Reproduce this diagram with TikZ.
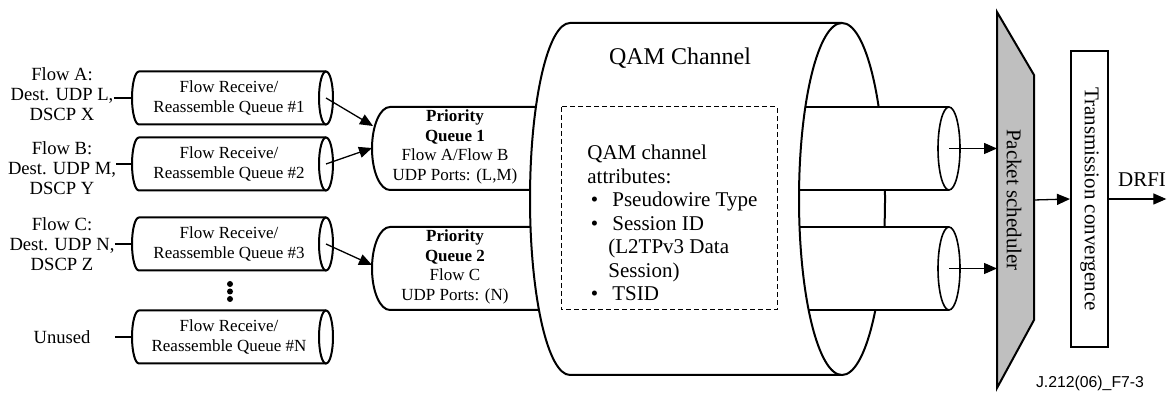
\documentclass[tikz,border=0pt]{standalone}
\usepackage{fontspec}
\setmainfont{Liberation Serif}
\setsansfont{Liberation Sans}
\usetikzlibrary{arrows.meta, positioning, calc}

\begin{document}
\begin{tikzpicture}[
  x=0.5pt, y=-0.5pt,
  txt/.style    = {font=\fontsize{8.5}{9.75}\selectfont, align=center, inner sep=0pt},
  lbl/.style    = {font=\fontsize{9.3}{10}\selectfont, align=center, inner sep=0pt},
  big/.style    = {font=\fontsize{10.5}{11.75}\selectfont, inner sep=0pt},
  tube/.style   = {draw, line width=1pt, fill=white},
  inner/.style  = {draw, line width=0.8pt},
  arrow/.style  = {line width=0.65pt, -{Triangle[length=6.5pt, width=5.5pt]}},
  conn/.style   = {line width=0.65pt}
]
  \useasboundingbox (0,0) rectangle (1172,394);

  % Flow receive / reassemble queues
  \foreach \i/\y in {1/98, 2/164, 3/244, N/337} {
    \draw[tube] (326,\y-26.5) -- (139,\y-26.5)
      arc[start angle=270, end angle=90, x radius=7, y radius=26.5]
      -- (326,\y+26.5);
    \draw[tube] (326,\y) ellipse[x radius=7, y radius=26.5];
    \node[txt] (frq\i) at (229,\y) {Flow Receive/\\Reassemble Queue \#\i};
    \coordinate (in\i) at (132,\y);
    \coordinate (out\i) at (326,\y);
  }

  % Dots between queue 3 and queue N
  \foreach \d in {284,291.5,299}
    \fill (230,\d) circle[radius=3];

  % Flow labels
  \node[lbl] (flowA) at (62,94)  {Flow A:\\Dest. UDP L,\\DSCP X};
  \node[lbl] (flowB) at (62,168) {Flow B:\\Dest. UDP M,\\DSCP Y};
  \node[lbl] (flowC) at (62,244) {Flow C:\\Dest. UDP N,\\DSCP Z};
  \node[lbl] (unused) at (62,337) {Unused};

  \draw[conn] (flowA.east |- in1) -- (in1);
  \draw[conn] (flowB.east |- in2) -- (in2);
  \draw[conn] (flowC.east |- in3) -- (in3);
  \draw[conn] (flowC.east |- inN) -- (inN);

  % Priority queues
  \foreach \q/\y in {1/148.5, 2/268.5}
    \draw[tube] (600,\y-41.5) -- (390,\y-41.5)
      arc[start angle=270, end angle=90, x radius=18, y radius=41.5]
      -- (600,\y+41.5);

  \node[txt] (pq1) at (455,147)
    {\textbf{Priority}\\\textbf{Queue 1}\\Flow A/Flow B\\UDP Ports: (L,M)};
  \node[txt] (pq2) at (455,267)
    {\textbf{Priority}\\\textbf{Queue 2}\\Flow C\\UDP Ports: (N)};

  \coordinate (pq1a) at (373,126);
  \coordinate (pq1b) at (372,148);
  \coordinate (pq2a) at (372,265);

  \draw[arrow] (out1) -- (pq1a);
  \draw[arrow] (out2) -- (pq1b);
  \draw[arrow] (out3) -- (pq2a);

  % QAM channel
  \draw[tube] (842,23) -- (570,23)
    arc[start angle=270, end angle=90, x radius=40, y radius=176]
    -- (842,375);
  \draw[tube] (842,199) ellipse[x radius=43, y radius=176];
  \node[font=\fontsize{12}{14}\selectfont, inner sep=0pt] (qam) at (680,58) {QAM Channel};

  % Attributes
  \draw[dash pattern=on 2.5pt off 1.5pt, line width=0.5pt] (561,107) rectangle (777,310);
  \node[big, align=left, anchor=west] (attrs) at (587,223)
    {QAM channel\\
     attributes:\\
     \makebox[12.5pt][l]{\,\textbullet}Pseudowire Type\\
     \makebox[12.5pt][l]{\,\textbullet}Session ID\\
     \hspace*{10.5pt}(L2TPv3 Data\\
     \hspace*{10.5pt}Session)\\
     \makebox[12.5pt][l]{\,\textbullet}TSID};

  % Output tubes
  \foreach \t/\y/\a/\b in {1/148.5/805.3/799.1, 2/268.5/799.6/808.6} {
    \fill[white] (842,\y-41.5) rectangle (949,\y+41.5);
    \draw[inner] (\a,\y-41.5) -- (949,\y-41.5);
    \draw[inner] (\b,\y+41.5) -- (949,\y+41.5);
    \draw[inner, fill=white] (949,\y) ellipse[x radius=11, y radius=41.5];
    \coordinate (tube\t) at (949,\y);
  }

  % Packet scheduler
  \draw[line width=1pt, fill=black!25] (997,12) -- (1034,75) -- (1034,320) -- (997,388) -- cycle;
  \node[big, rotate=-90] (sched) at (1014,200) {Packet scheduler};
  \coordinate (schedL) at (997,200);
  \coordinate (schedR) at (1034,200);

  \draw[arrow] (tube1) -- (tube1 -| schedL);
  \draw[arrow] (tube2) -- (tube2 -| schedL);

  % Transmission convergence
  \node[draw, line width=1pt, rotate=-90, big, minimum width=148pt, minimum height=18.5pt]
    (tc) at (1089.5,199) {Transmission convergence};
  \draw[arrow] (schedR) -- (tc.south);

  % DRFI output
  \node[big] (drfi) at (1142,180) {DRFI};
  \draw[arrow] (tc.north) -- (tc.north -| drfi.south east);

  % Figure id
  \node[font=\sffamily\fontsize{7.9}{9}\selectfont, inner sep=0pt] (figid) at (1090,383) {J.212(06)\_F7-3};

\end{tikzpicture}
\end{document}
